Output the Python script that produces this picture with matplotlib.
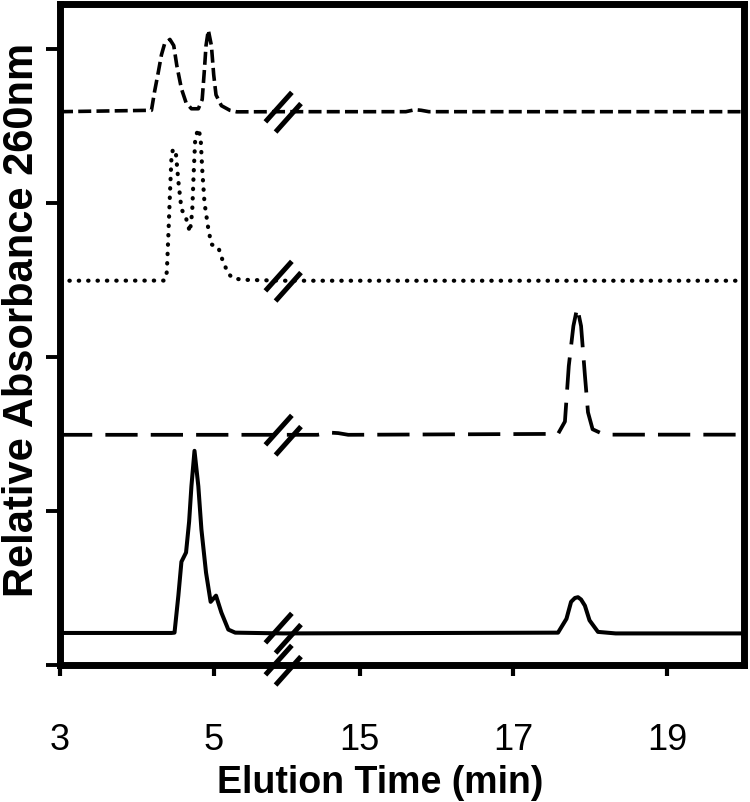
import numpy as np
import matplotlib.pyplot as plt
from matplotlib.path import Path

plt.rcParams['font.family'] = ['Liberation Sans', 'DejaVu Sans']

# x axis is broken between these two times (min)
BRK_LO, BRK_HI = 5.9, 14.0
GAP = BRK_HI - BRK_LO

x_ticks = [3, 5, 15, 17, 19]
y_ticks = [0, 1, 2, 3, 4]

# traces (time in min, relative absorbance)
t_solid = [3.0, 4.45, 4.49, 4.54, 4.58, 4.64, 4.68, 4.71, 4.75, 4.80, 4.84, 4.90,
           4.96, 5.03, 5.10, 5.19, 5.28, 5.9, 14.0, 17.58, 17.69, 17.75, 17.80,
           17.84, 17.88, 17.93, 17.99, 18.10, 18.33, 20.0]
a_solid = [0.208, 0.208, 0.21, 0.45, 0.67, 0.73, 0.93, 1.16, 1.39, 1.16, 0.88, 0.60,
           0.41, 0.45, 0.34, 0.23, 0.21, 0.205, 0.205, 0.21, 0.30, 0.41, 0.435,
           0.44, 0.425, 0.385, 0.29, 0.215, 0.205, 0.205]

t_long = [3.0, 5.9, 14.0, 14.45, 14.62, 14.72, 14.85, 17.58, 17.67, 17.72, 17.78,
          17.83, 17.88, 17.93, 17.97, 18.03, 18.16, 18.29, 20.0]
a_long = [1.494, 1.494, 1.494, 1.494, 1.508, 1.505, 1.494, 1.50, 1.58, 1.94, 2.20,
          2.32, 2.20, 1.88, 1.64, 1.53, 1.50, 1.495, 1.495]

t_dot = [3.0, 4.36, 4.39, 4.41, 4.43, 4.45, 4.47, 4.51, 4.54, 4.58, 4.64, 4.69,
         4.72, 4.74, 4.76, 4.80, 4.83, 4.85, 4.88, 4.93, 4.97, 5.06, 5.12, 5.19,
         5.25, 5.38, 5.9, 14.0, 20.0]
a_dot = [2.494, 2.495, 2.55, 2.79, 3.05, 3.29, 3.35, 3.31, 3.14, 2.96, 2.90, 2.81,
         2.94, 3.20, 3.42, 3.48, 3.42, 3.22, 3.00, 2.83, 2.73, 2.71, 2.62, 2.54,
         2.51, 2.50, 2.494, 2.494, 2.494]

t_dash = [3.0, 4.19, 4.23, 4.28, 4.32, 4.36, 4.43, 4.48, 4.52, 4.58, 4.64, 4.71,
          4.80, 4.85, 4.88, 4.90, 4.93, 4.97, 5.00, 5.03, 5.10, 5.21, 5.30, 5.9,
          14.0, 15.6, 15.72, 15.8, 15.9, 20.0]
a_dash = [3.591, 3.60, 3.72, 3.85, 3.96, 4.03, 4.06, 4.02, 3.89, 3.74, 3.65, 3.61,
          3.61, 3.67, 3.87, 4.02, 4.12, 4.02, 3.83, 3.70, 3.63, 3.60, 3.59, 3.591,
          3.591, 3.591, 3.604, 3.60, 3.591, 3.591]


def fwd(x):
    x = np.asarray(x, dtype=float)
    return np.where(x <= BRK_LO, x, np.where(x >= BRK_HI, x - GAP, BRK_LO))


def inv(u):
    u = np.asarray(u, dtype=float)
    return np.where(u <= BRK_LO, u, u + GAP)


# "//" break symbol as a custom marker
brk_marker = Path([(-17.8, -9.2), (8.2, 19.8), (-7.8, -19.2), (17.2, 8.8)],
                  [Path.MOVETO, Path.LINETO, Path.MOVETO, Path.LINETO])

fig = plt.figure(figsize=(7.5, 8.03), dpi=100)
ax = fig.add_axes([0.08, 0.1706, 0.912, 0.8232])
ax.set_xscale('function', functions=(fwd, inv))

ax.plot(t_solid, a_solid, color='k', lw=2.9, solid_joinstyle='round')
ax.plot(t_long, a_long, color='k', lw=2.7, linestyle=(0, (8.6, 3.5)))
ax.plot(t_dot, a_dot, color='k', lw=3.0, linestyle=(0, (0.1, 2.15)),
        dash_capstyle='round')
ax.plot(t_dash, a_dash, color='k', lw=2.6, linestyle=(0, (3.6, 1.45)))

# break marks on each trace and on the bottom axis
for base in [a_solid[0], a_long[0], a_dot[0], a_dash[0], 0]:
    ax.plot([BRK_LO], [base], marker=brk_marker, ms=29, mew=3.6,
            color='k', clip_on=False, zorder=5)

ax.set_xlim(3, 20)
ax.set_ylim(0, 4.29)
ax.set_xticks(x_ticks)
ax.set_xticklabels([str(v) for v in x_ticks])
ax.set_yticks(y_ticks)
ax.set_yticklabels([])
ax.minorticks_off()

for s in ax.spines.values():
    s.set_linewidth(5)
    s.set_color('k')
    s.set_capstyle('projecting')

ax.tick_params(axis='x', direction='out', length=8, width=3, pad=33,
               labelsize=26, colors='k')
ax.tick_params(axis='y', direction='out', length=10, width=2.8)

ax.set_xlabel('Elution Time (min)', fontsize=27, fontweight='bold')
ax.set_ylabel('Relative Absorbance 260nm', fontsize=30, fontweight='bold')
ax.xaxis.set_label_coords(0.468, -0.149)
ax.yaxis.set_label_coords(-0.026, 0.523)

fig.savefig('out.png', dpi=100)
